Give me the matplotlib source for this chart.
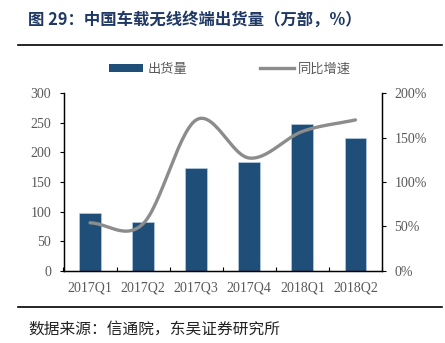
import numpy as np
import matplotlib.pyplot as plt
from matplotlib.lines import Line2D
from matplotlib.patches import Patch

plt.rcParams['font.family'] = ['Liberation Serif', 'Noto Sans CJK SC', 'DejaVu Sans']

quarters = ['2017Q1', '2017Q2', '2017Q3', '2017Q4', '2018Q1', '2018Q2']
shipments = [97, 83, 174, 184, 248, 224]          # 万部
yoy_growth = [54, 53, 170, 127, 157, 170]          # %

BAR_COLOR = '#1F4E79'
LINE_COLOR = '#8C8C8C'
TITLE_COLOR = '#1F3864'
TICK_COLOR = '#595959'
CJK = ['Noto Sans CJK SC', 'DejaVu Sans']


def smooth_curve(x, y, n=30):
    """Excel 风格的平滑折线 (Catmull-Rom)."""
    x = np.asarray(x, float)
    y = np.asarray(y, float)
    px = np.concatenate([[2 * x[0] - x[1]], x, [2 * x[-1] - x[-2]]])
    py = np.concatenate([[2 * y[0] - y[1]], y, [2 * y[-1] - y[-2]]])
    xs, ys = [], []
    t = np.linspace(0, 1, n)
    for i in range(1, len(px) - 2):
        p0, p1, p2, p3 = py[i - 1], py[i], py[i + 1], py[i + 2]
        q0, q1, q2, q3 = px[i - 1], px[i], px[i + 1], px[i + 2]
        f = lambda a, b, c, d: 0.5 * ((2 * b) + (-a + c) * t
                                      + (2 * a - 5 * b + 4 * c - d) * t ** 2
                                      + (-a + 3 * b - 3 * c + d) * t ** 3)
        xs.append(f(q0, q1, q2, q3))
        ys.append(f(p0, p1, p2, p3))
    return np.concatenate(xs), np.concatenate(ys)


fig = plt.figure(figsize=(4.45, 3.43), dpi=100)
ax = fig.add_axes([63.5 / 445, 1 - 270.7 / 343, (382 - 63.5) / 445, (270.7 - 93.3) / 343])
ax2 = ax.twinx()

x = np.arange(len(quarters))
ax.bar(x, shipments, width=0.41, color=BAR_COLOR, edgecolor='#BDD7EE', linewidth=0.4, zorder=2)
sx, sy = smooth_curve(x, yoy_growth)
ax2.plot(sx, sy, color=LINE_COLOR, linewidth=2.4, solid_capstyle='round', zorder=3)

ax.set_xlim(-0.5, len(quarters) - 0.5)
ax.set_ylim(0, 300)
ax.set_yticks(range(0, 301, 50))
ax2.set_ylim(0, 200)
ax2.set_yticks(range(0, 201, 50))
ax2.set_yticklabels([f'{v}%' for v in range(0, 201, 50)])

ax.set_xticks(x)
ax.set_xticklabels(quarters)
ax.set_xticks(np.arange(-0.5, len(quarters), 1), minor=True)
ax.tick_params(axis='x', which='major', length=0, pad=8, labelsize=10, labelcolor=TICK_COLOR)
ax.tick_params(axis='x', which='minor', direction='in', length=3, width=0.8)
ax.tick_params(axis='y', direction='out', length=3, width=0.8, labelsize=10, labelcolor=TICK_COLOR, pad=6)
ax2.tick_params(axis='y', direction='out', length=3, width=0.8, labelsize=10, labelcolor=TICK_COLOR, pad=6)

for a in (ax, ax2):
    a.spines['top'].set_visible(False)
    for s in ('left', 'right', 'bottom'):
        a.spines[s].set_linewidth(0.9)
        a.spines[s].set_color('black')

handles = [Patch(facecolor=BAR_COLOR), Line2D([0], [0], color=LINE_COLOR, linewidth=2.4)]
fig.legend(handles, ['出货量', '同比增速'], loc='center', bbox_to_anchor=(230 / 445, 1 - 69 / 343),
           ncol=2, frameon=False, handlelength=2.6, handleheight=0.5, columnspacing=5.5,
           handletextpad=0.3, prop={'family': CJK, 'size': 9.5}, labelcolor=TICK_COLOR)

fig.text(28 / 445, 1 - 20 / 343, '图 29：中国车载无线终端出货量（万部，%）', fontsize=11.8,
         fontweight='bold', color=TITLE_COLOR, family=CJK, va='center', ha='left')
fig.add_artist(Line2D([18 / 445, 442 / 445], [1 - 45 / 343] * 2, color='black', linewidth=1.2))
fig.add_artist(Line2D([18 / 445, 442 / 445], [1 - 307 / 343] * 2, color='black', linewidth=1.2))
fig.text(28 / 445, 1 - 329 / 343, '数据来源：信通院，东吴证券研究所', fontsize=11.3,
         color='#222222', family=CJK, va='center', ha='left')

fig.savefig('out.png', dpi=100)
